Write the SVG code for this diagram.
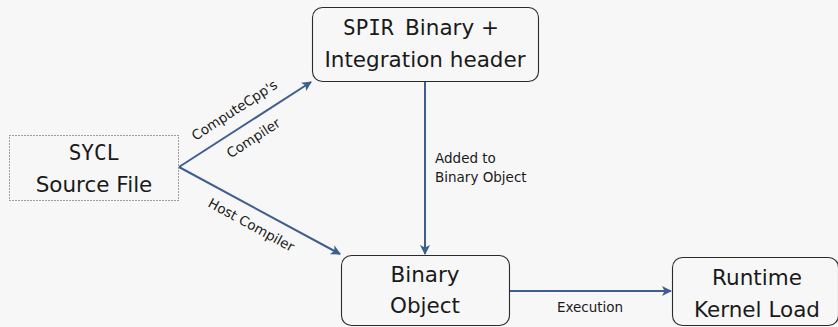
<svg xmlns="http://www.w3.org/2000/svg" width="838" height="327" viewBox="0 0 838 327">
  <defs>
    <marker id="arrow" viewBox="0 0 10 10" refX="9" refY="5" markerWidth="10" markerHeight="10" markerUnits="userSpaceOnUse" orient="auto">
      <path d="M0,0 L10,5 L0,10 L2.5,5 Z" fill="#3e5f8e"/>
    </marker>
    <style>
      .box { fill: #f7f7f7; stroke: #2b2b2b; stroke-width: 1.1; }
      .dotted { fill: #f7f7f7; stroke: #444; stroke-width: 1; stroke-dasharray: 1 2; }
      .main { font-family: "DejaVu Sans", sans-serif; font-size: 21.5px; fill: #1a1a1a; text-anchor: middle; }
      .tt { font-family: "DejaVu Sans Mono", monospace; font-size: 21px; fill: #1a1a1a; }
      .lbl { font-family: "DejaVu Sans", sans-serif; font-size: 13.5px; fill: #1a1a1a; }
      .edge { fill: none; stroke: #3e5f8e; stroke-width: 2; marker-end: url(#arrow); }
    </style>
  </defs>
  <rect width="838" height="327" fill="#f7f7f7"/>

  <g id="connectors">
    <line class="edge" x1="179" y1="167" x2="311" y2="82"/>
    <line class="edge" x1="179" y1="167" x2="340" y2="254"/>
    <line class="edge" x1="425" y1="81" x2="425" y2="254"/>
    <line class="edge" x1="509" y1="291" x2="671" y2="291"/>
    <text class="lbl" text-anchor="middle" transform="translate(237,114) rotate(-33)">ComputeCpp's</text>
    <text class="lbl" text-anchor="middle" transform="translate(256,142) rotate(-33)">Compiler</text>
    <text class="lbl" text-anchor="middle" transform="translate(249,229) rotate(28.7)">Host Compiler</text>
    <text class="lbl" x="435" y="163">Added to</text>
    <text class="lbl" x="435" y="182">Binary Object</text>
    <text class="lbl" text-anchor="middle" x="590" y="312">Execution</text>
  </g>

  <g id="sycl-source">
    <rect class="dotted" x="9.5" y="135.5" width="169" height="65"/>
    <text class="tt" x="94" y="160" text-anchor="middle">SYCL</text>
    <text class="main" x="94" y="192">Source File</text>
  </g>

  <g id="spir-binary">
    <rect class="box" x="312.5" y="7.5" width="226" height="74" rx="10"/>
    <text class="tt" x="343" y="35">SPIR</text>
    <text class="main" x="452" y="35">Binary +</text>
    <text class="main" x="425" y="67">Integration header</text>
  </g>

  <g id="binary-object">
    <rect class="box" x="341.5" y="255.5" width="168" height="70" rx="10"/>
    <text class="main" x="425" y="282">Binary</text>
    <text class="main" x="425" y="313">Object</text>
  </g>

  <g id="runtime-kernel-load">
    <rect class="box" x="672.5" y="257.5" width="166" height="68" rx="10"/>
    <text class="main" x="757" y="285">Runtime</text>
    <text class="main" x="757" y="317">Kernel Load</text>
  </g>
</svg>
